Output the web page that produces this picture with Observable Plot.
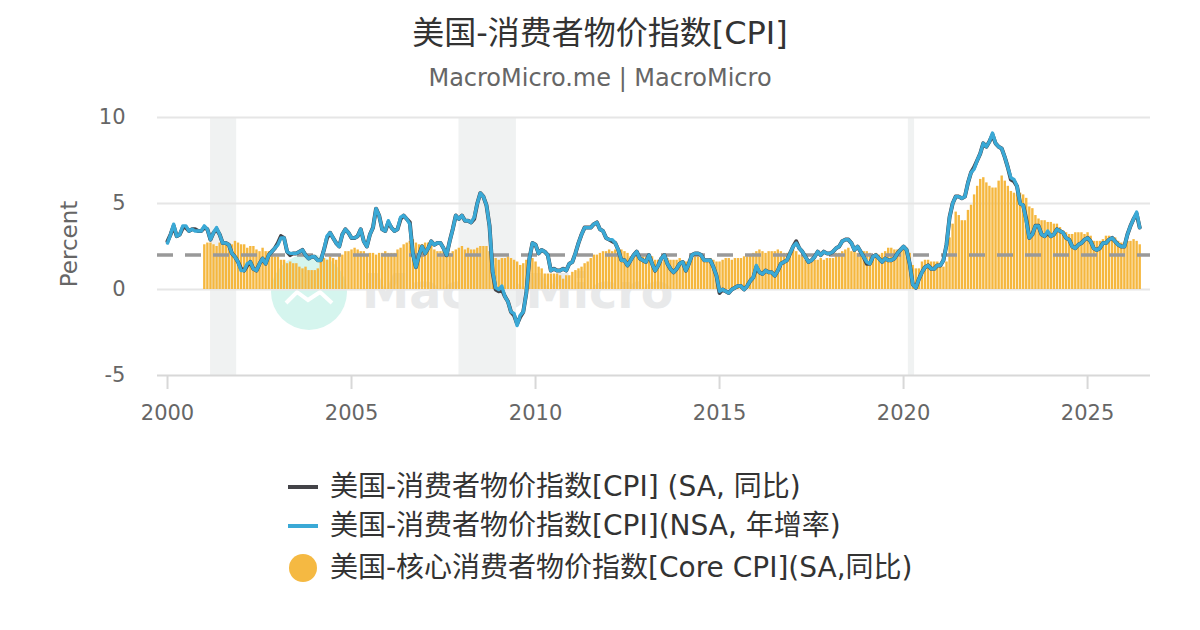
<!DOCTYPE html>
<html>
<head>
<meta charset="utf-8">
<script src="https://cdn.jsdelivr.net/npm/d3@7"></script>
<script src="https://cdn.jsdelivr.net/npm/@observablehq/plot@0.6"></script>
<style>
  html, body { margin: 0; padding: 0; background: #fff; }
  body { font-family: "DejaVu Sans", "Noto Sans CJK SC", sans-serif; }
  #wrap { position: relative; width: 1200px; height: 630px; overflow: hidden; background: #fff; }
  #title { position: absolute; top: 10px; left: 0; width: 1200px; text-align: center; font-size: 32px; color: #333; line-height: 46px; }
  #sub { position: absolute; top: 61px; left: 0; width: 1200px; text-align: center; font-size: 24px; color: #666; line-height: 34px; }
  #wm { position: absolute; left: 0; top: 0; width: 1200px; height: 630px; z-index: 0; }
  #chart { position: absolute; left: 0; top: 100px; z-index: 1; }
  #ylab { position: absolute; left: 69px; top: 244px; transform: translate(-50%, -50%) rotate(-90deg); font-size: 23px; color: #666; white-space: nowrap; z-index: 2; }
  .leg { position: absolute; left: 288px; font-size: 28px; color: #333; white-space: nowrap; display: flex; align-items: center; z-index: 2; line-height: 34px; }
  .sw { width: 30px; height: 4px; margin-right: 12px; }
  .dot { width: 28px; height: 28px; border-radius: 50%; margin-left: 1px; margin-right: 13px; }
</style>
</head>
<body>
<div id="wrap">
  <div id="title">美国-消费者物价指数[CPI]</div>
  <div id="sub">MacroMicro.me | MacroMicro</div>
  <svg id="wm" width="1200" height="630">
    <circle cx="309" cy="292" r="38" fill="#d5f5ee"></circle>
    <polyline points="286,303 297,292 308,300 320,292 332,303" fill="none" stroke="#fff" stroke-width="4"></polyline>
    <text x="362" y="308" font-family="DejaVu Sans" font-weight="bold" font-size="47.5" fill="#e8e9ea">MacroMicro</text>
  </svg>
  <div id="chart"></div>
  <div id="ylab">Percent</div>
  <div class="leg" style="top:470px"><div class="sw" style="background:#434348"></div><span>美国-消费者物价指数[CPI] (SA, 同比)</span></div>
  <div class="leg" style="top:509px"><div class="sw" style="background:#3aa9d6"></div><span>美国-消费者物价指数[CPI](NSA, 年增率)</span></div>
  <div class="leg" style="top:551px"><div class="dot" style="background:#f5b942"></div><span>美国-核心消费者物价指数[Core CPI](SA,同比)</span></div>
</div>
<script>
// Monthly series, first value = January of the start year
const lineStartYear = 2000;
const coreStartYear = 2001;

// CPI YoY, not seasonally adjusted (%), Jan 2000 .. Jun 2026
const cpiNSA = [
  2.7,3.2,3.8,3.1,3.2,3.7,3.7,3.4,3.5,3.4,3.4,3.4,
  3.7,3.5,2.9,3.3,3.6,3.2,2.7,2.7,2.6,2.1,1.9,1.6,
  1.1,1.1,1.5,1.6,1.2,1.1,1.5,1.8,1.5,2.0,2.2,2.4,
  2.6,3.0,3.0,2.2,2.1,2.1,2.1,2.2,2.3,2.0,1.8,1.9,
  1.9,1.7,1.7,2.3,3.1,3.3,3.0,2.7,2.5,3.2,3.5,3.3,
  3.0,3.0,3.1,3.5,2.8,2.5,3.2,3.6,4.7,4.3,3.5,3.4,
  4.0,3.6,3.4,3.5,4.2,4.3,4.1,3.8,2.1,1.3,2.0,2.5,
  2.1,2.4,2.8,2.6,2.7,2.7,2.4,2.0,2.8,3.5,4.3,4.1,
  4.3,4.0,4.0,3.9,4.2,5.0,5.6,5.4,4.9,3.7,1.1,0.1,
  0.0,0.2,-0.4,-0.7,-1.3,-1.4,-2.1,-1.5,-1.3,-0.2,1.8,2.7,
  2.6,2.1,2.3,2.2,2.0,1.1,1.2,1.1,1.1,1.2,1.1,1.5,
  1.6,2.1,2.7,3.2,3.6,3.6,3.6,3.8,3.9,3.5,3.4,3.0,
  2.9,2.9,2.7,2.3,1.7,1.7,1.4,1.7,2.0,2.2,1.8,1.7,
  1.6,2.0,1.5,1.1,1.4,1.8,2.0,1.5,1.2,1.0,1.2,1.5,
  1.6,1.1,1.5,2.0,2.1,2.1,2.0,1.7,1.7,1.7,1.3,0.8,
  -0.1,0.0,-0.1,-0.2,0.0,0.1,0.2,0.2,0.0,0.2,0.5,0.7,
  1.4,1.0,0.9,1.1,1.0,1.0,0.8,1.1,1.5,1.6,1.7,2.1,
  2.5,2.7,2.4,2.2,1.9,1.6,1.7,1.9,2.2,2.0,2.2,2.1,
  2.1,2.2,2.4,2.5,2.8,2.9,2.9,2.7,2.3,2.5,2.2,1.9,
  1.6,1.5,1.9,2.0,1.8,1.6,1.8,1.7,1.7,1.8,2.1,2.3,
  2.5,2.3,1.5,0.3,0.1,0.6,1.0,1.3,1.4,1.2,1.2,1.4,
  1.4,1.7,2.6,4.2,5.0,5.4,5.4,5.3,5.4,6.2,6.8,7.0,
  7.5,7.9,8.5,8.3,8.6,9.1,8.5,8.3,8.2,7.7,7.1,6.5,
  6.4,6.0,5.0,4.9,4.0,3.0,3.2,3.7,3.7,3.2,3.1,3.4,
  3.1,3.2,3.5,3.4,3.3,3.0,2.9,2.5,2.4,2.6,2.7,2.9,
  3.0,2.8,2.4,2.3,2.4,2.7,2.7,2.9,3.0,2.8,2.6,2.5,
  2.5,3.2,3.7,4.1,4.5,3.6
];

// CPI YoY, seasonally adjusted (%), Jan 2000 .. Jun 2026
const cpiSA = [
  2.8,3.2,3.7,3.1,3.2,3.6,3.6,3.4,3.5,3.5,3.4,3.4,
  3.6,3.5,2.9,3.3,3.5,3.2,2.7,2.7,2.6,2.1,1.9,1.6,
  1.2,1.1,1.4,1.6,1.2,1.1,1.5,1.8,1.5,2.0,2.2,2.4,
  2.7,3.1,3.0,2.2,2.0,2.1,2.1,2.2,2.3,2.0,1.8,1.9,
  1.9,1.7,1.7,2.3,3.0,3.3,3.0,2.7,2.5,3.2,3.5,3.3,
  3.0,3.0,3.1,3.5,2.8,2.5,3.2,3.6,4.7,4.3,3.5,3.4,
  3.9,3.6,3.4,3.5,4.1,4.3,4.1,3.9,2.1,1.3,2.0,2.5,
  2.1,2.4,2.8,2.6,2.7,2.7,2.4,2.0,2.8,3.5,4.3,4.1,
  4.3,4.0,4.0,3.9,4.1,5.0,5.6,5.4,4.9,3.7,1.0,0.0,
  -0.1,0.0,-0.4,-0.7,-1.3,-1.5,-2.0,-1.6,-1.3,-0.2,1.8,2.7,
  2.6,2.1,2.3,2.2,2.0,1.1,1.2,1.1,1.1,1.2,1.1,1.5,
  1.6,2.1,2.7,3.2,3.6,3.6,3.6,3.8,3.9,3.5,3.4,3.0,
  2.9,2.8,2.7,2.3,1.7,1.7,1.4,1.7,2.0,2.2,1.8,1.7,
  1.6,2.0,1.5,1.1,1.4,1.8,2.0,1.5,1.2,1.0,1.2,1.5,
  1.6,1.1,1.5,2.0,2.1,2.1,2.0,1.7,1.7,1.7,1.3,0.8,
  -0.2,0.0,-0.1,-0.2,0.0,0.1,0.2,0.2,0.0,0.2,0.5,0.7,
  1.3,1.0,0.9,1.1,1.0,1.0,0.8,1.1,1.5,1.6,1.7,2.1,
  2.5,2.8,2.4,2.2,1.9,1.6,1.7,1.9,2.2,2.0,2.2,2.1,
  2.1,2.2,2.4,2.5,2.8,2.9,2.9,2.7,2.3,2.5,2.2,1.9,
  1.5,1.5,1.9,2.0,1.8,1.6,1.8,1.7,1.7,1.8,2.1,2.3,
  2.5,2.3,1.5,0.3,0.1,0.6,1.0,1.3,1.4,1.2,1.2,1.4,
  1.4,1.7,2.6,4.2,5.0,5.4,5.4,5.3,5.4,6.2,6.8,7.1,
  7.5,7.9,8.5,8.3,8.6,9.0,8.5,8.3,8.2,7.7,7.1,6.4,
  6.3,6.0,5.0,4.9,4.1,3.0,3.2,3.7,3.7,3.2,3.1,3.3,
  3.1,3.2,3.5,3.4,3.3,3.0,2.9,2.5,2.4,2.6,2.7,2.9,
  3.0,2.8,2.4,2.3,2.4,2.7,2.7,2.9,3.0,2.8,2.6,2.5,
  2.5,3.2,3.7,4.1,4.4,3.6
];

// Core CPI YoY, seasonally adjusted (%), Jan 2001 .. Jun 2026
const coreCPI = [
  2.6,2.7,2.7,2.6,2.5,2.7,2.7,2.7,2.6,2.6,2.8,2.7,
  2.6,2.6,2.4,2.5,2.5,2.3,2.2,2.4,2.2,2.2,2.0,1.9,
  1.9,1.7,1.7,1.5,1.6,1.5,1.5,1.3,1.2,1.3,1.1,1.1,
  1.1,1.2,1.6,1.8,1.7,1.9,1.8,1.7,2.0,2.0,2.2,2.2,
  2.3,2.4,2.3,2.2,2.2,2.0,2.1,2.1,2.0,2.1,2.1,2.2,
  2.1,2.1,2.1,2.3,2.4,2.6,2.7,2.8,2.9,2.7,2.6,2.6,
  2.7,2.7,2.5,2.3,2.2,2.2,2.2,2.1,2.1,2.2,2.3,2.4,
  2.5,2.3,2.4,2.3,2.3,2.4,2.5,2.5,2.5,2.2,2.0,1.8,
  1.7,1.8,1.8,1.9,1.8,1.7,1.6,1.4,1.5,1.7,1.7,1.8,
  1.6,1.3,1.2,0.9,0.9,0.9,0.9,0.9,0.8,0.6,0.8,0.8,
  1.0,1.1,1.2,1.3,1.5,1.6,1.8,2.0,2.0,2.1,2.2,2.2,
  2.3,2.2,2.3,2.3,2.3,2.2,2.1,1.9,2.0,2.0,1.9,1.9,
  1.9,2.0,1.9,1.7,1.7,1.6,1.7,1.8,1.7,1.7,1.7,1.8,
  1.6,1.6,1.7,1.8,2.0,1.9,1.9,1.7,1.7,1.8,1.7,1.6,
  1.6,1.7,1.8,1.8,1.7,1.8,1.8,1.8,1.9,1.9,2.0,2.1,
  2.2,2.3,2.2,2.1,2.2,2.2,2.2,2.3,2.2,2.1,2.1,2.2,
  2.3,2.2,2.0,1.9,1.7,1.7,1.7,1.7,1.7,1.8,1.7,1.8,
  1.8,1.8,2.1,2.1,2.2,2.3,2.4,2.2,2.2,2.1,2.2,2.2,
  2.2,2.1,2.0,2.1,2.0,2.1,2.2,2.4,2.4,2.3,2.3,2.3,
  2.3,2.4,2.1,1.4,1.2,1.2,1.6,1.7,1.7,1.6,1.6,1.6,
  1.4,1.3,1.6,3.0,3.8,4.5,4.3,4.0,4.0,4.6,4.9,5.5,
  6.0,6.4,6.5,6.2,6.0,5.9,5.9,6.3,6.6,6.3,6.0,5.7,
  5.6,5.5,5.6,5.5,5.3,4.8,4.7,4.3,4.1,4.0,4.0,3.9,
  3.9,3.8,3.8,3.6,3.4,3.3,3.2,3.2,3.3,3.3,3.3,3.2,
  3.3,3.1,2.8,2.8,2.8,2.9,3.1,3.1,3.0,3.0,2.8,2.7,
  2.7,2.8,2.8,2.9,2.8,2.6
];

// NBER recessions (decimal years)
const recessionStart = [2001.17, 2007.92, 2020.13];
const recessionEnd   = [2001.88, 2009.48, 2020.30];

const yTicks = [-5, 0, 5, 10];
const xTicks = [2000, 2005, 2010, 2015, 2020, 2025];
const targetRate = [2];

const lineData = cpiNSA.map((v, i) => ({ date: lineStartYear + i / 12, nsa: v, sa: cpiSA[i] }));
const coreData = coreCPI.map((v, i) => ({ date: coreStartYear + i / 12, core: v }));
const recessions = recessionStart.map((s, i) => ({ start: s, end: recessionEnd[i] }));

const chart = Plot.plot({
  width: 1200,
  height: 340,
  marginTop: 17,
  marginBottom: 65,
  marginLeft: 157,
  marginRight: 50,
  style: { background: "transparent", fontFamily: "DejaVu Sans, Noto Sans CJK SC, sans-serif", fontSize: "21px", color: "#666", overflow: "visible" },
  x: { type: "linear", domain: [1999.728, 2026.71] },
  y: { domain: [-5, 10] },
  marks: [
    Plot.rect(recessions, { x1: "start", x2: "end", fill: "#f0f2f2" }),
    Plot.ruleY([0, 5, 10], { stroke: "#e6e6e6", strokeWidth: 2 }),
    Plot.ruleY([-5], { stroke: "#d8d8d8", strokeWidth: 2 }),
    Plot.ruleX(coreData, { x: "date", y1: 0, y2: "core", stroke: "#f5b73e", strokeWidth: 2.4 }),
    Plot.ruleY(targetRate, { stroke: "#999999", strokeWidth: 3.5, strokeDasharray: "16,12" }),
    Plot.line(lineData, { x: "date", y: "sa", stroke: "#434348", strokeWidth: 4, strokeLinejoin: "round" }),
    Plot.line(lineData, { x: "date", y: "nsa", stroke: "#3aa9d6", strokeWidth: 3.4, strokeLinejoin: "round" }),
    Plot.axisY({ ticks: yTicks, tickFormat: d => String(d), tickSize: 0, tickPadding: 32, label: null, fill: "#666", fontSize: 21 }),
    Plot.axisX({ ticks: xTicks, tickFormat: d => String(d), tickSize: 14, tickPadding: 16, label: null, stroke: "#d8d8d8", strokeWidth: 2, fill: "#666", fontSize: 21 })
  ]
});
document.getElementById("chart").appendChild(chart);
</script>
</body>
</html>
